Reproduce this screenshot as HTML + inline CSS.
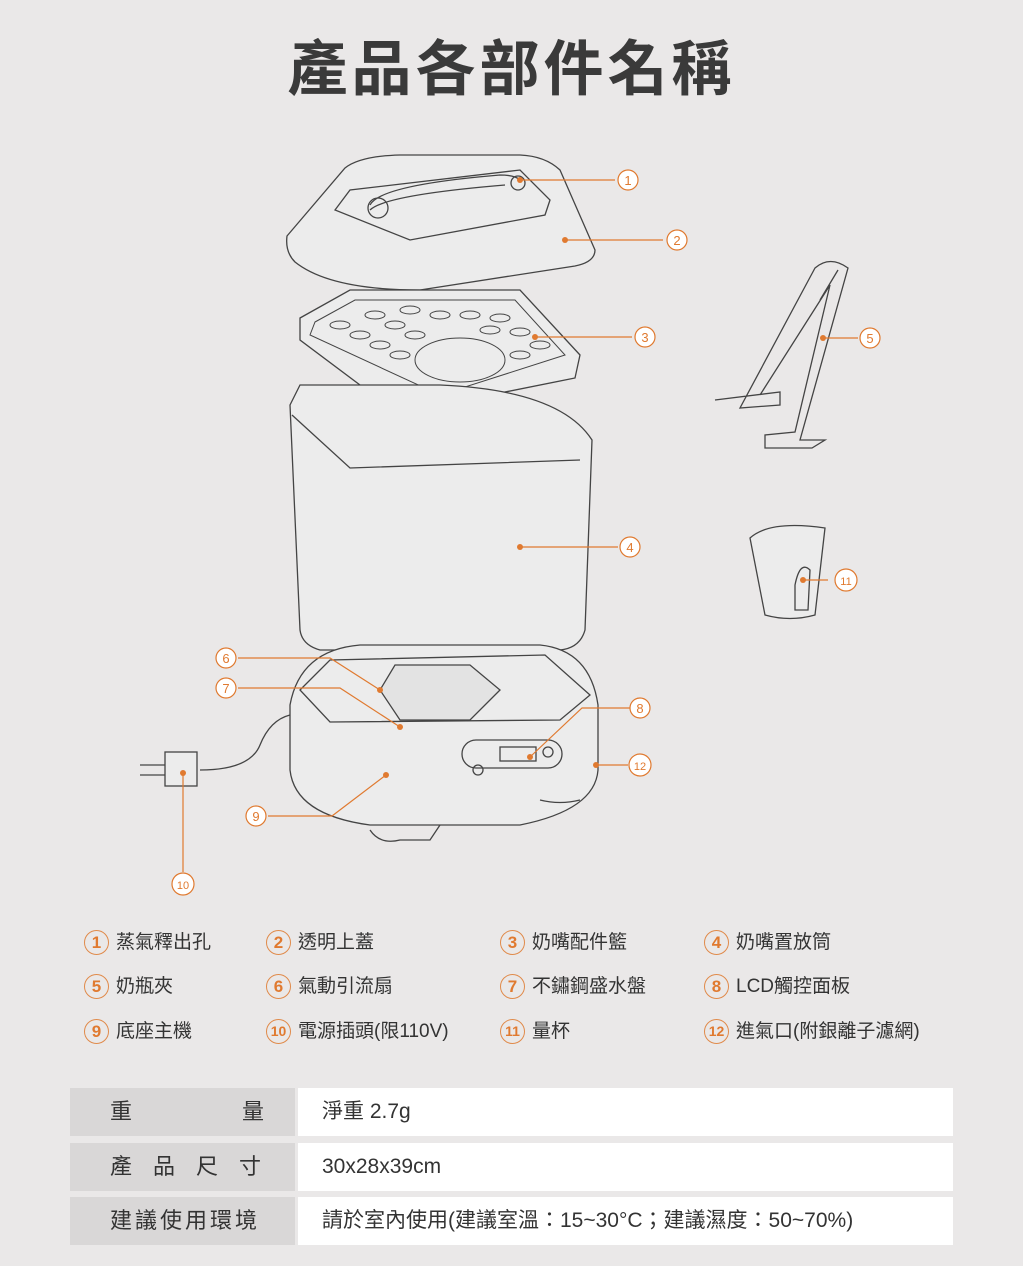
<!DOCTYPE html>
<html><head><meta charset="utf-8"><style>
body{margin:0;width:1023px;height:1266px;background:#eae8e8;font-family:"Liberation Sans","Noto Sans CJK TC",sans-serif;position:relative;overflow:hidden}
.t{position:absolute;left:0;width:1023px;top:30px;text-align:center;font-size:60px;font-weight:bold;color:#3a3a3a;letter-spacing:4px;line-height:80px}
.lg{position:absolute;font-size:19px;color:#333;white-space:nowrap;line-height:26px}
.lg b{display:inline-block;width:23px;height:23px;border:1.5px solid #e08a4a;border-radius:50%;color:#e07a30;text-align:center;font-size:17px;line-height:23px;margin-right:7px;vertical-align:middle;box-sizing:content-box;font-weight:bold}
.row{position:absolute;left:70px;width:883px;height:48px}
.row .a{position:absolute;left:0;width:225px;height:48px;background:#d9d7d7;font-size:22px;color:#333;line-height:48px}
.row .v{position:absolute;left:228px;right:0;height:48px;background:#fff;font-size:21px;color:#333;line-height:48px;padding-left:24px}
</style></head><body>
<div class="t">產品各部件名稱</div>
<svg width="1023" height="1266" style="position:absolute;left:0;top:0" fill="none" stroke="#444" stroke-width="1.3">
<path d="M287 236 L345 168 Q360 156 400 155 L520 155 Q545 156 560 170 L595 250 Q595 262 575 266 L420 290 Q330 290 295 262 Q285 252 287 236Z" fill="#ececec"/>
<path d="M335 210 L350 190 L520 170 L550 200 L545 215 L410 240Z"/>
<path d="M370 205 Q380 185 500 175 Q515 175 520 180 M370 210 Q385 195 505 185"/>
<circle cx="378" cy="208" r="10"/><circle cx="518" cy="183" r="7"/>
<path d="M300 318 L350 290 L520 290 L580 355 L575 378 L440 405 L400 415 L300 340Z" fill="#ececec"/>
<g stroke-width="1">
<path d="M315 322 L355 300 L515 300 L565 355 L440 395 L310 335Z"/>
<ellipse cx="460" cy="360" rx="45" ry="22"/>
<ellipse cx="340" cy="325" rx="10" ry="4"/><ellipse cx="360" cy="335" rx="10" ry="4"/><ellipse cx="380" cy="345" rx="10" ry="4"/><ellipse cx="400" cy="355" rx="10" ry="4"/><ellipse cx="375" cy="315" rx="10" ry="4"/><ellipse cx="395" cy="325" rx="10" ry="4"/><ellipse cx="415" cy="335" rx="10" ry="4"/><ellipse cx="410" cy="310" rx="10" ry="4"/><ellipse cx="440" cy="315" rx="10" ry="4"/><ellipse cx="470" cy="315" rx="10" ry="4"/><ellipse cx="500" cy="318" rx="10" ry="4"/><ellipse cx="520" cy="332" rx="10" ry="4"/><ellipse cx="540" cy="345" rx="10" ry="4"/><ellipse cx="520" cy="355" rx="10" ry="4"/><ellipse cx="490" cy="330" rx="10" ry="4"/>
</g>
<path d="M290 405 L300 385 L440 385 Q560 390 592 440 L585 630 Q580 648 560 650 L320 650 Q302 645 300 630Z" fill="#ececec"/>
<path d="M292 415 L350 468 L580 460"/>
<path d="M290 705 Q300 650 360 645 L540 645 Q590 650 598 705 L598 770 Q595 810 520 825 L370 825 Q295 815 290 770Z" fill="#ececec"/>
<path d="M300 690 L330 660 L545 655 L590 695 L560 720 L330 722Z"/>
<path d="M370 830 Q380 845 400 840 L430 840 L440 825 M540 800 Q560 805 580 800"/>
<path d="M380 690 L395 665 L470 665 L500 690 L470 720 L400 720Z" fill="#e3e3e3"/>
<rect x="462" y="740" width="100" height="28" rx="14"/>
<rect x="500" y="747" width="36" height="14"/><circle cx="478" cy="770" r="5"/><circle cx="548" cy="752" r="5"/>
<path d="M290 715 Q270 720 260 745 Q250 770 200 770"/>
<rect x="165" y="752" width="32" height="34" fill="#ececec"/><path d="M140 765 L165 765 M140 775 L165 775"/>
<path d="M715 400 L780 392 L780 405 L740 408 L815 268 Q830 255 848 268 L800 440 L825 440 L812 448 L765 448 L765 435 L795 432 L830 285 L760 395" />
<path d="M820 300 L838 270"/>
<path d="M750 538 Q770 520 825 528 L815 615 Q790 622 765 615Z" fill="#ececec"/>
<path d="M795 585 Q800 560 810 570 L808 610 L795 610Z"/>
</svg>
<svg width="1023" height="1266" style="position:absolute;left:0;top:0" fill="none" stroke="#e07a30" stroke-width="1.2">
<g fill="#e07a30" stroke="none"><circle cx="520" cy="180" r="3"/><circle cx="565" cy="240" r="3"/><circle cx="535" cy="337" r="3"/><circle cx="520" cy="547" r="3"/><circle cx="380" cy="690" r="3"/><circle cx="400" cy="727" r="3"/><circle cx="530" cy="757" r="3"/><circle cx="596" cy="765" r="3"/><circle cx="386" cy="775" r="3"/><circle cx="183" cy="773" r="3"/><circle cx="823" cy="338" r="3"/><circle cx="803" cy="580" r="3"/></g>
<path d="M520 180 L615 180 M565 240 L663 240 M535 337 L632 337 M520 547 L618 547 M823 338 L858 338 M803 580 L828 580 M238 658 L330 658 L380 690 M238 688 L340 688 L400 727 M530 757 L582 708 L630 708 M596 765 L628 765 M386 775 L332 816 L268 816 M183 773 L183 872"/>
<g fill="#fff" stroke="#e07a30"><circle cx="628" cy="180" r="10"/><circle cx="677" cy="240" r="10"/><circle cx="645" cy="337" r="10"/><circle cx="630" cy="547" r="10"/><circle cx="870" cy="338" r="10"/><circle cx="846" cy="580" r="11"/><circle cx="226" cy="658" r="10"/><circle cx="226" cy="688" r="10"/><circle cx="640" cy="708" r="10"/><circle cx="640" cy="765" r="11"/><circle cx="256" cy="816" r="10"/><circle cx="183" cy="884" r="11"/></g>
<g fill="#e07a30" stroke="none" font-size="13" text-anchor="middle" font-family="Liberation Sans"><text x="628" y="185">1</text><text x="677" y="245">2</text><text x="645" y="342">3</text><text x="630" y="552">4</text><text x="870" y="343">5</text><text x="846" y="585" font-size="11">11</text><text x="226" y="663">6</text><text x="226" y="693">7</text><text x="640" y="713">8</text><text x="640" y="770" font-size="11">12</text><text x="256" y="821">9</text><text x="183" y="889" font-size="11">10</text></g>
</svg>
<div class="lg" style="left:84px;top:930px"><b>1</b>蒸氣釋出孔</div>
<div class="lg" style="left:266px;top:930px"><b>2</b>透明上蓋</div>
<div class="lg" style="left:500px;top:930px"><b>3</b>奶嘴配件籃</div>
<div class="lg" style="left:704px;top:930px"><b>4</b>奶嘴置放筒</div>
<div class="lg" style="left:84px;top:974px"><b>5</b>奶瓶夾</div>
<div class="lg" style="left:266px;top:974px"><b>6</b>氣動引流扇</div>
<div class="lg" style="left:500px;top:974px"><b>7</b>不鏽鋼盛水盤</div>
<div class="lg" style="left:704px;top:974px"><b>8</b>LCD觸控面板</div>
<div class="lg" style="left:84px;top:1019px"><b>9</b>底座主機</div>
<div class="lg" style="left:266px;top:1019px"><b style="font-size:14px">10</b>電源插頭(限110V)</div>
<div class="lg" style="left:500px;top:1019px"><b style="font-size:14px">11</b>量杯</div>
<div class="lg" style="left:704px;top:1019px"><b style="font-size:14px">12</b>進氣口(附銀離子濾網)</div>
<div class="row" style="top:1088px"><div class="a"><span style="position:absolute;left:40px">重</span><span style="position:absolute;left:172px">量</span></div><div class="v">淨重 2.7g</div></div>
<div class="row" style="top:1143px"><div class="a" style="padding-left:40px;box-sizing:border-box;letter-spacing:21px">產品尺寸</div><div class="v">30x28x39cm</div></div>
<div class="row" style="top:1197px"><div class="a" style="padding-left:40px;box-sizing:border-box;letter-spacing:3px">建議使用環境</div><div class="v">請於室內使用(建議室溫：15~30°C；建議濕度：50~70%)</div></div>
</body></html>
